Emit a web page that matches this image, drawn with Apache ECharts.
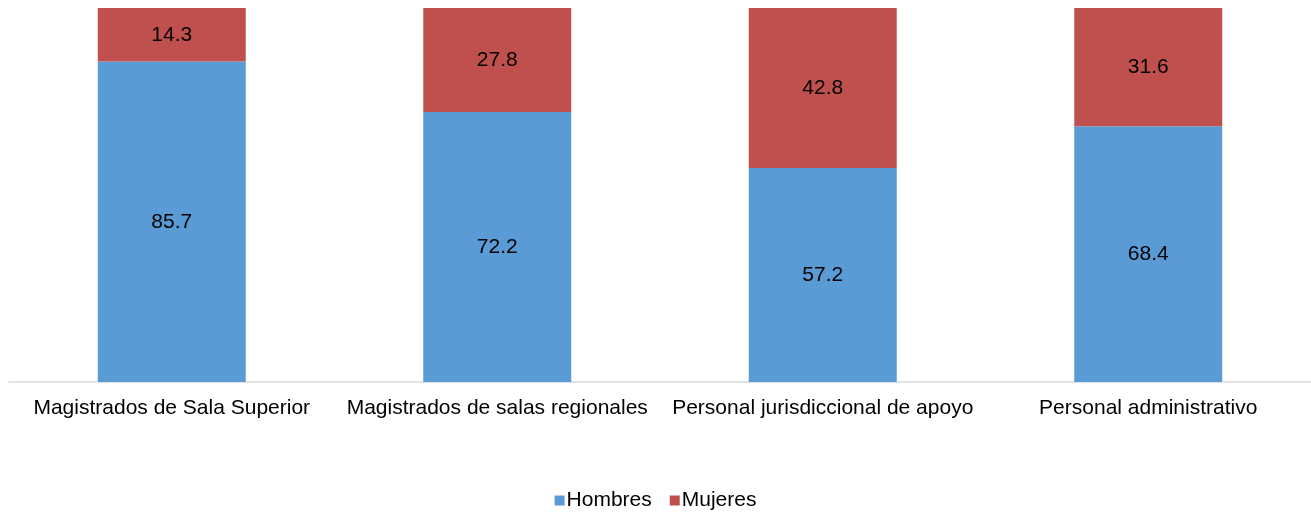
<!DOCTYPE html>
<html>
<head>
<meta charset="utf-8">
<script src="https://cdn.jsdelivr.net/npm/echarts@6/dist/echarts.min.js"></script>
<style>
  html, body { margin: 0; padding: 0; background: #fff; }
  #main { width: 1311px; height: 513px; }
</style>
</head>
<body>
<div id="main"></div>
<script>
const categories = ['Magistrados de Sala Superior', 'Magistrados de salas regionales', 'Personal jurisdiccional de apoyo', 'Personal administrativo'];
const hombres = [85.7, 72.2, 57.2, 68.4];
const mujeres = [14.3, 27.8, 42.8, 31.6];

const font = 'Liberation Sans, Arial, sans-serif';
const chart = echarts.init(document.getElementById('main'));

const labelStyle = {
  show: true,
  position: 'inside',
  color: '#000',
  fontSize: 21,
  fontFamily: font,
  formatter: p => p.value.toFixed(1)
};

chart.setOption({
  animation: false,
  grid: { left: 9, right: 0, top: 8, bottom: 131, containLabel: false },
  legend: {
    bottom: -3,
    left: 'center',
    itemWidth: 10,
    itemHeight: 10,
    itemGap: 18,
    icon: 'rect',
    textStyle: { fontSize: 21, fontFamily: font, color: '#000', padding: [0, 0, 0, -3] },
    data: ['Hombres', 'Mujeres']
  },
  xAxis: {
    type: 'category',
    data: categories,
    axisLine: { lineStyle: { color: '#d9d9d9', width: 1.5 } },
    axisTick: { show: false },
    axisLabel: { color: '#000', fontSize: 21, fontFamily: font, margin: 16, interval: 0 }
  },
  yAxis: {
    type: 'value',
    min: 0,
    max: 100,
    show: false,
    splitLine: { show: false }
  },
  series: [
    {
      name: 'Hombres',
      type: 'bar',
      stack: 'total',
      barWidth: 148,
      data: hombres,
      itemStyle: { color: '#5B9BD5' },
      label: labelStyle
    },
    {
      name: 'Mujeres',
      type: 'bar',
      stack: 'total',
      barWidth: 148,
      data: mujeres,
      itemStyle: { color: '#C0504D' },
      label: labelStyle
    }
  ]
});
</script>
</body>
</html>
